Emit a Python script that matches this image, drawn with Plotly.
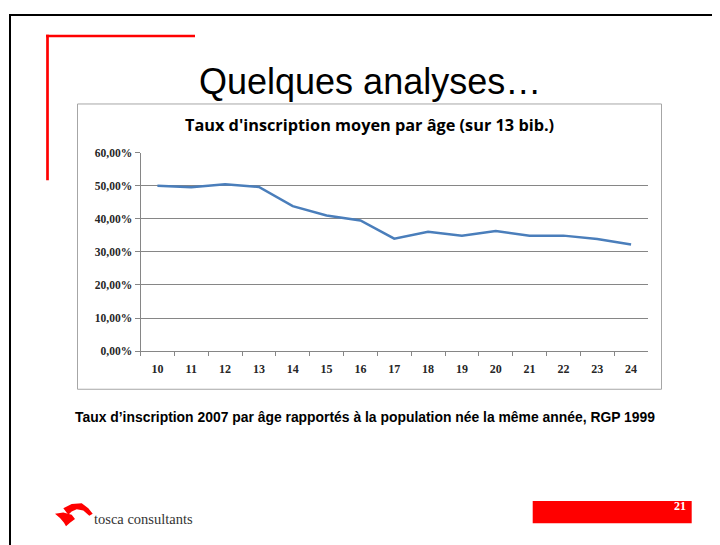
import plotly.graph_objects as go

# ---- data ----
ages = ["10", "11", "12", "13", "14", "15", "16", "17", "18", "19", "20", "21", "22", "23", "24"]
rates = [0.500, 0.495, 0.504, 0.496, 0.438, 0.410, 0.395, 0.340, 0.361, 0.349, 0.363, 0.349, 0.349, 0.339, 0.322]
y_ticks = [0.0, 0.1, 0.2, 0.3, 0.4, 0.5, 0.6]
y_tick_labels = ["0,00%", "10,00%", "20,00%", "30,00%", "40,00%", "50,00%", "60,00%"]

slide_title = "Quelques analyses…"
chart_title = "Taux d'inscription moyen par âge (sur 13 bib.)"
caption = "Taux d’inscription 2007 par âge rapportés à la population née la même année, RGP 1999"
company = "tosca consultants"
page_no = "21"

W, H = 720, 545
OX, OY = 8, 8  # browser default body margin


def px(x):
    return (x - OX) / W


def py(y):
    return 1 - (y - OY) / H


def path(points):
    return "M " + " L ".join(f"{px(x):.5f},{py(y):.5f}" for x, y in points) + " Z"


fig = go.Figure(
    go.Scatter(
        x=ages,
        y=rates,
        mode="lines",
        line=dict(color="#4A7EBB", width=2.5),
        hoverinfo="skip",
    )
)

grey = "#868686"
fig.update_layout(
    width=W,
    height=H,
    margin=dict(l=0, r=0, t=0, b=0),
    paper_bgcolor="white",
    plot_bgcolor="white",
    showlegend=False,
    xaxis=dict(
        type="category",
        domain=[px(140.5), px(648)],
        range=[-0.5, 14.5],
        showline=True,
        linecolor=grey,
        linewidth=1,
        ticks="outside",
        tickson="boundaries",
        ticklen=4,
        tickcolor=grey,
        showgrid=False,
        tickfont=dict(family="Liberation Serif", size=12, color="#262626", weight="bold"),
        ticklabelstandoff=6,
    ),
    yaxis=dict(
        domain=[py(352.7), py(149.7)],
        range=[0, 0.6],
        tickvals=y_ticks,
        ticktext=y_tick_labels,
        showgrid=True,
        gridcolor=grey,
        gridwidth=1,
        zeroline=False,
        showline=True,
        linecolor=grey,
        ticks="outside",
        ticklen=5,
        tickcolor=grey,
        tickfont=dict(family="Liberation Serif", size=11.5, color="#262626", weight="bold"),
    ),
)

shapes = [
    # slide frame
    dict(type="line", xref="paper", yref="paper", x0=px(9), y0=py(9), x1=px(728), y1=py(9),
         line=dict(color="black", width=2)),
    dict(type="line", xref="paper", yref="paper", x0=px(10), y0=py(8), x1=px(10), y1=py(553),
         line=dict(color="black", width=2)),
    # red L
    dict(type="line", xref="paper", yref="paper", x0=px(46), y0=py(30.5), x1=px(195), y1=py(30.5),
         line=dict(color="#FF0000", width=2.7)),
    dict(type="line", xref="paper", yref="paper", x0=px(47.5), y0=py(29.2), x1=px(47.5), y1=py(178),
         line=dict(color="#FF0000", width=2.7)),
    # chart box
    dict(type="rect", xref="paper", yref="paper", x0=px(77.5), y0=py(100), x1=px(661.5), y1=py(391.7),
         line=dict(color="#A6A6A6", width=1), layer="below"),
    # footer red bar
    dict(type="rect", xref="paper", yref="paper", x0=px(532.7), y0=py(506), x1=px(691.7), y1=py(528.7),
         fillcolor="#FF0000", line=dict(width=0)),
    # logo (approximate swoosh)
    dict(type="path", xref="paper", yref="paper",
         path=path([(63.3, 513.3), (71.7, 509), (81.7, 508.3), (88.3, 513.3), (92.7, 519), (89.3, 521),
                    (83.3, 515.7), (76.7, 514.3), (71.7, 516.7), (68.3, 520)]),
         fillcolor="#FF0000", line=dict(width=0)),
    dict(type="path", xref="paper", yref="paper",
         path=path([(55, 519), (63.3, 517.7), (71.7, 520), (75, 524.3), (70, 528.3), (66, 531.7),
                    (64, 528.3), (60, 523.3)]),
         fillcolor="#FF0000", line=dict(width=0)),
]
fig.update_layout(shapes=shapes)

annotations = [
    dict(text=slide_title, x=px(370), y=py(77), xref="paper", yref="paper", showarrow=False,
         xanchor="center", yanchor="middle",
         font=dict(family="Liberation Sans", size=36, color="black")),
    dict(text=chart_title, x=px(369), y=py(122), xref="paper", yref="paper", showarrow=False,
         xanchor="center", yanchor="middle",
         font=dict(family="Open Sans", size=16.3, color="black", weight="bold")),
    dict(text=caption, x=px(365), y=py(420), xref="paper", yref="paper", showarrow=False,
         xanchor="center", yanchor="middle",
         font=dict(family="Liberation Sans", size=13.9, color="black", weight="bold")),
    dict(text=company, x=px(92), y=py(524), xref="paper", yref="paper", showarrow=False,
         xanchor="left", yanchor="middle",
         font=dict(family="Liberation Serif", size=14.5, color="#333333")),
    dict(text=page_no, x=px(688), y=py(511), xref="paper", yref="paper", showarrow=False,
         xanchor="right", yanchor="middle",
         font=dict(family="Liberation Serif", size=12, color="white", weight="bold")),
]
fig.update_layout(annotations=annotations)

fig.write_html("out.html", config={"displayModeBar": False})
